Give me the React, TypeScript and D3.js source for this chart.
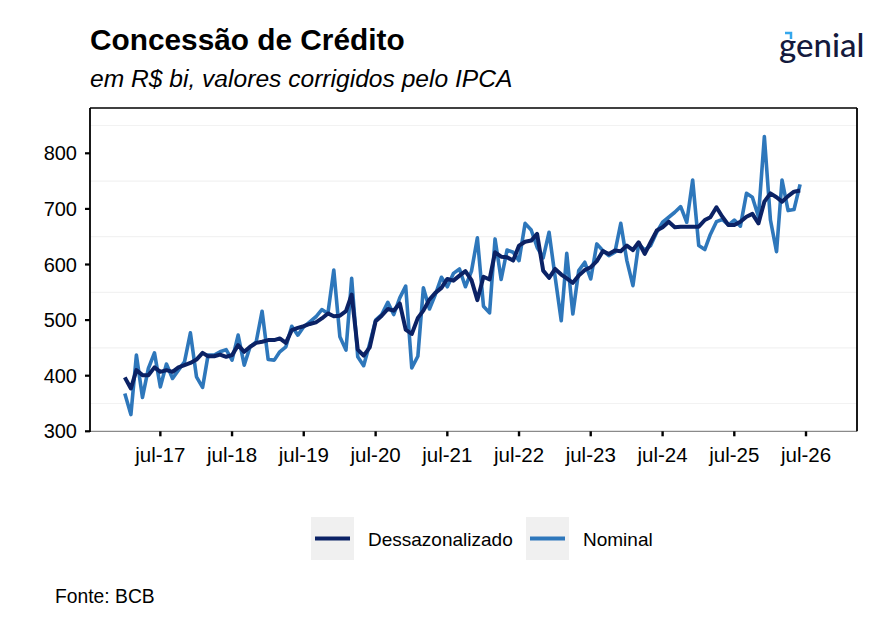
import React from 'react';
import * as d3 from 'd3';

// monthly series, Jan 2017 onwards (R$ bi, IPCA-corrected)
const startMonth = new Date(2017, 0, 1);

const nominal = [
  368, 330, 437, 361, 413, 441, 380, 421, 395, 410, 425, 477,
  398, 379, 437, 437, 443, 447, 428, 473, 419, 452, 461, 516,
  429, 428, 443, 452, 489, 473, 488, 497, 506, 519, 512, 590,
  470, 446, 575, 434, 418, 458, 500, 510, 532, 510, 540, 561,
  414, 435, 558, 520, 546, 577, 560, 584, 592, 560, 588, 648,
  525, 513, 646, 573, 626, 622, 607, 674, 662, 631, 612, 658,
  577, 499, 620, 511, 589, 604, 574, 637, 625, 616, 622, 674,
  607, 562, 637, 626, 634, 658, 676, 685, 694, 704, 676, 752,
  634, 627, 654, 677, 681, 671, 680, 669, 728, 721, 686, 830,
  680, 623, 752, 697, 699, 744,
];

const dessazonalizado = [
  397, 377, 410, 401, 401, 415, 407, 410, 407, 415, 419, 423,
  429, 441, 435, 435, 438, 434, 437, 455, 443, 452, 459, 461,
  464, 464, 467, 459, 482, 486, 489, 493, 496, 503, 512, 507,
  508, 516, 546, 447, 436, 451, 498, 508, 520, 517, 530, 483,
  475, 504, 517, 537, 549, 558, 574, 571, 580, 588, 572, 536,
  578, 573, 622, 614, 613, 607, 634, 641, 643, 655, 589, 576,
  592, 582, 575, 567, 580, 590, 595, 606, 624, 619, 625, 624,
  634, 626, 640, 619, 640, 661, 667, 677, 667, 668, 668, 668,
  668, 680, 685, 703, 686, 671, 671, 677, 686, 691, 674, 713,
  728, 721, 713, 723, 731, 733,
];

const xTickLabels = ['jul-17', 'jul-18', 'jul-19', 'jul-20', 'jul-21', 'jul-22', 'jul-23', 'jul-24', 'jul-25', 'jul-26'];
const yTicks = [300, 400, 500, 600, 700, 800];
const yMinor = [350, 450, 550, 650, 750, 850];

const seriesNames = ['Dessazonalizado', 'Nominal'];
const seriesColors = ['#0b2265', '#2e77bb'];

const W = 888;
const H = 634;
const panel = { left: 90, right: 857, top: 108, bottom: 431.3 };
const font = '"Liberation Sans", Arial, sans-serif';

const App: React.FC = () => {
  document.body.style.margin = '0';

  const dates = nominal.map((_, i) => d3.timeMonth.offset(startMonth, i));
  const tickDates = xTickLabels.map(l => new Date(2000 + +l.slice(4), 6, 1));

  const x = d3.scaleTime()
    .domain([startMonth, tickDates[tickDates.length - 1]])
    .range([124.8, 806]);
  const y = d3.scaleLinear().domain([300, 800]).range([panel.bottom, 153.3]);

  const line = d3.line<number>()
    .x((_, i) => x(dates[i]))
    .y(d => y(d));

  const legendX = [311, 526];

  return (
    <svg width={W} height={H} style={{ display: 'block', background: '#fff' }}>
      <rect width={W} height={H} fill="#fff" />
      <text x={90} y={50} fontFamily={font} fontWeight="bold" fontSize={29.8} fill="#000">
        Concessão de Crédito
      </text>
      <text x={90} y={87} fontFamily={font} fontStyle="italic" fontSize={24.6} fill="#000">
        em R$ bi, valores corrigidos pelo IPCA
      </text>

      {/* logo */}
      <g>
        <text x={779} y={57} fontFamily='Lato, "Noto Sans", sans-serif' fontWeight={500} fontSize={33} fill="#141a3d">
          genial
        </text>
        <path d="M785,33 L791,33 L791,39" fill="none" stroke="#35a7ec" strokeWidth={2.5} />
      </g>

      {/* grid */}
      {yMinor.map(v => (
        <line key={v} x1={panel.left} x2={panel.right} y1={y(v)} y2={y(v)} stroke="#f2f2f2" strokeWidth={1.2} />
      ))}

      {/* series */}
      <path d={line(nominal) || ''} fill="none" stroke={seriesColors[1]} strokeWidth={3.6} strokeLinejoin="round" />
      <path d={line(dessazonalizado) || ''} fill="none" stroke={seriesColors[0]} strokeWidth={4} strokeLinejoin="round" />

      {/* panel border */}
      <line x1={panel.left} x2={panel.right} y1={panel.bottom} y2={panel.bottom} stroke="#8a8a8a" strokeWidth={1.2} />
      <line x1={panel.left} x2={panel.right} y1={panel.top} y2={panel.top} stroke="#000" strokeWidth={1.6} />
      <line x1={panel.left} x2={panel.left} y1={panel.top} y2={panel.bottom + 0.6} stroke="#000" strokeWidth={1.8} />
      <line x1={panel.right} x2={panel.right} y1={panel.top} y2={panel.bottom} stroke="#000" strokeWidth={1.8} />

      {/* y axis */}
      {yTicks.map(v => (
        <g key={v}>
          <line x1={panel.left - 5} x2={panel.left} y1={y(v)} y2={y(v)} stroke="#000" strokeWidth={2.2} />
          <text x={77} y={y(v) + 7} textAnchor="end" fontFamily={font} fontSize={20} fill="#000">{v}</text>
        </g>
      ))}

      {/* x axis */}
      {tickDates.map((d, i) => (
        <g key={xTickLabels[i]}>
          <line x1={x(d)} x2={x(d)} y1={panel.bottom} y2={panel.bottom + 5} stroke="#000" strokeWidth={2.4} />
          <text x={x(d)} y={462} textAnchor="middle" fontFamily={font} fontSize={20.5} fill="#000">{xTickLabels[i]}</text>
        </g>
      ))}

      {/* legend */}
      {seriesNames.map((name, i) => (
        <g key={name}>
          <rect x={legendX[i]} y={517} width={43} height={43} fill="#f0f0f0" />
          <line x1={legendX[i] + 4} x2={legendX[i] + 39} y1={538.5} y2={538.5} stroke={seriesColors[i]} strokeWidth={4} />
          <text x={legendX[i] + 57} y={546} fontFamily={font} fontSize={19} fill="#000">{name}</text>
        </g>
      ))}

      <text x={55} y={603} fontFamily={font} fontSize={19.3} fill="#000">Fonte: BCB</text>
    </svg>
  );
};

export default App;
